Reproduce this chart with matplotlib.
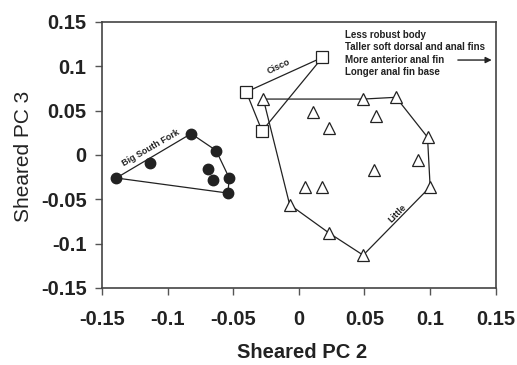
import numpy as np
import matplotlib.pyplot as plt

plt.rcParams['font.family'] = ['Liberation Sans', 'DejaVu Sans']

# Big South Fork (filled circles)
bsf_x = [-0.139, -0.113, -0.082, -0.063, -0.069, -0.065, -0.053, -0.054]
bsf_y = [-0.026, -0.009, 0.024, 0.005, -0.016, -0.028, -0.026, -0.043]
bsf_hull = [0, 2, 3, 6, 7]

# Cisco (open squares)
cisco_x = [0.018, -0.040, -0.028]
cisco_y = [0.110, 0.071, 0.027]
cisco_hull = [0, 1, 2]

# Little (open triangles)
little_x = [-0.027, 0.049, 0.074, 0.011, 0.059, 0.023, 0.098, 0.091, 0.057,
            0.005, 0.018, 0.100, -0.007, 0.023, 0.049]
little_y = [0.063, 0.063, 0.065, 0.048, 0.044, 0.030, 0.020, -0.006, -0.017,
            -0.036, -0.036, -0.036, -0.056, -0.088, -0.113]
little_hull = [0, 1, 2, 6, 11, 14, 13, 12]

ticks = [-0.15, -0.1, -0.05, 0, 0.05, 0.1, 0.15]
tick_labels = ['-0.15', '-0.1', '-0.05', '0', '0.05', '0.1', '0.15']

note = ("Less robust body\nTaller soft dorsal and anal fins\n"
        "More anterior anal fin\nLonger anal fin base")

ink = '#222222'


def hull_line(ax, xs, ys, idx):
    idx = list(idx) + [idx[0]]
    ax.plot([xs[i] for i in idx], [ys[i] for i in idx], color=ink, lw=0.9, zorder=1)


fig = plt.figure(figsize=(5.17, 3.65), dpi=100)
ax = fig.add_axes([0.197, 0.211, 0.762, 0.729])

hull_line(ax, bsf_x, bsf_y, bsf_hull)
hull_line(ax, cisco_x, cisco_y, cisco_hull)
hull_line(ax, little_x, little_y, little_hull)

ax.plot(bsf_x, bsf_y, 'o', ms=7.5, color=ink, zorder=3)
ax.plot(cisco_x, cisco_y, 's', ms=8, mfc='white', mec=ink, mew=0.9, zorder=3)
ax.plot(little_x, little_y, '^', ms=8.5, mfc='white', mec=ink, mew=0.9, zorder=3)

ax.text(-0.113, 0.008, 'Big South Fork', rotation=30, fontsize=6.5, fontweight='bold',
        ha='center', va='center', color=ink)
ax.text(-0.015, 0.100, 'Cisco', rotation=25, fontsize=6.5, fontweight='bold',
        ha='center', va='center', color=ink)
ax.text(0.075, -0.066, 'Little', rotation=45, fontsize=6.5, fontweight='bold',
        ha='center', va='center', color=ink)

ax.text(0.035, 0.141, note, fontsize=7, fontweight='bold', ha='left', va='top',
        color=ink, linespacing=1.3)
ax.annotate('', xy=(0.149, 0.107), xytext=(0.119, 0.107),
            arrowprops=dict(arrowstyle='-|>', color=ink, lw=1.0, mutation_scale=9))

ax.set_xlim(-0.15, 0.15)
ax.set_ylim(-0.15, 0.15)
ax.set_xticks(ticks)
ax.set_xticklabels(tick_labels)
ax.set_yticks(ticks)
ax.set_yticklabels(tick_labels)
ax.tick_params(direction='out', length=5, width=1, colors='#555555',
               labelcolor=ink, labelsize=14.5)
ax.tick_params(axis='x', pad=11)
ax.tick_params(axis='y', pad=6)
for lab in ax.get_xticklabels() + ax.get_yticklabels():
    lab.set_fontweight('bold')
for sp in ax.spines.values():
    sp.set_color('#444444')
    sp.set_linewidth(1.2)

ax.set_xlabel('Sheared PC 2', fontsize=14.5, fontweight='bold', color=ink)
ax.set_ylabel('Sheared PC 3', fontsize=15, color=ink)
ax.xaxis.set_label_coords(0.508, -0.208)
ax.yaxis.set_label_coords(-0.175, 0.496)

fig.savefig('out.png', dpi=100)
